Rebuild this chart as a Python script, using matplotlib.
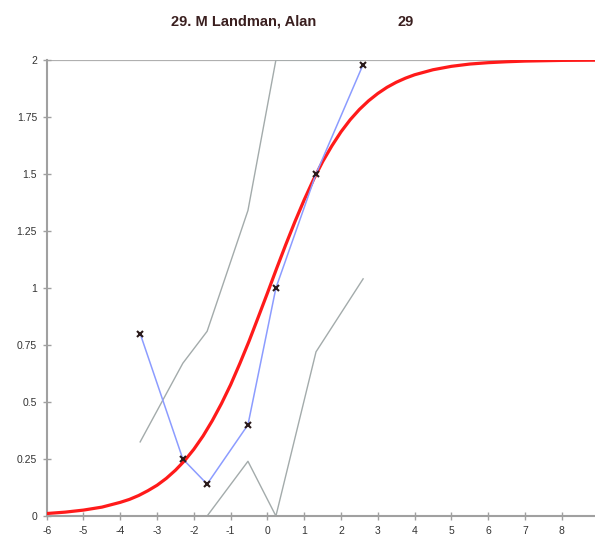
import matplotlib.pyplot as plt

# observed scores (blue line with x markers)
obs_x = [-3.46, -2.3, -1.64, -0.53, 0.23, 1.32, 2.6]
obs_y = [0.80, 0.25, 0.14, 0.40, 1.00, 1.50, 1.98]

# confidence band (grey lines)
upper_y = [0.325, 0.67, 0.81, 1.34, 2.0, 2.0, 2.0]
lower_y = [0.0, 0.0, 0.0, 0.24, 0.0, 0.72, 1.04]

# expected score curve (red)
curve_x = [-6, -5.5, -5, -4.5, -4, -3.75, -3.5, -3.25, -3, -2.75, -2.5, -2.25,
           -2, -1.75, -1.5, -1.25, -1, -0.75, -0.5, -0.25, 0, 0.25, 0.5, 0.75,
           1, 1.25, 1.5, 1.75, 2, 2.25, 2.5, 2.75, 3, 3.25, 3.5, 3.75, 4, 4.5,
           5, 5.5, 6, 6.5, 7, 8, 9]
curve_y = [0.011, 0.017, 0.026, 0.039, 0.060, 0.073, 0.090, 0.111, 0.135,
           0.165, 0.201, 0.243, 0.293, 0.351, 0.418, 0.493, 0.576, 0.669,
           0.767, 0.872, 0.978, 1.086, 1.191, 1.292, 1.387, 1.475, 1.554,
           1.623, 1.685, 1.738, 1.783, 1.821, 1.853, 1.880, 1.902, 1.920,
           1.935, 1.957, 1.972, 1.982, 1.988, 1.992, 1.995, 1.998, 1.999]

x_ticks = list(range(-6, 10))
y_ticks = [0, 0.25, 0.5, 0.75, 1, 1.25, 1.5, 1.75, 2]
y_labels = ['0', '0.25', '0.5', '0.75', '1', '1.25', '1.5', '1.75', '2']

plt.rcParams['font.family'] = ['Liberation Sans', 'DejaVu Sans']
plt.rcParams['axes.unicode_minus'] = False

fig = plt.figure(figsize=(5.95, 5.4), dpi=100)
ax = fig.add_axes([0.0785, 0.0444, 0.9275, 0.8446])

grey = '#a3abab'
ax.axhline(2, color='#b0b0b0', lw=1.6, zorder=1)
ax.plot(obs_x, upper_y, color=grey, lw=1.0, zorder=2)
ax.plot(obs_x, lower_y, color=grey, lw=1.0, zorder=2)
ax.plot(curve_x, curve_y, color='#ff1a1a', lw=2.3, zorder=3)
ax.plot(obs_x, obs_y, color='#8c9cff', lw=1.1, zorder=4)
ax.plot(obs_x, obs_y, ls='none', marker='x', color='#2a1a1a', ms=4, mew=1.5, zorder=5)

ax.set_xlim(-6, 9)
ax.set_ylim(0, 2)
ax.set_xticks(x_ticks)
ax.set_yticks(y_ticks)
ax.set_yticklabels(y_labels)

for side in ['top', 'right']:
    ax.spines[side].set_visible(False)
for side in ['left', 'bottom']:
    ax.spines[side].set_color('#a0a0a0')
    ax.spines[side].set_linewidth(1.5)
ax.tick_params(direction='inout', length=6, width=1, colors='#a0a0a0',
               labelsize=7.5, labelcolor='#333333', pad=4)

fig.text(0.41, 0.96, '29. M Landman, Alan', ha='center', va='center',
         fontsize=10.5, fontweight='bold', color='#3a1f1f')
fig.text(0.682, 0.96, '29', ha='center', va='center',
         fontsize=10.5, fontweight='bold', color='#3a1f1f')

fig.savefig('out.png', dpi=100)
